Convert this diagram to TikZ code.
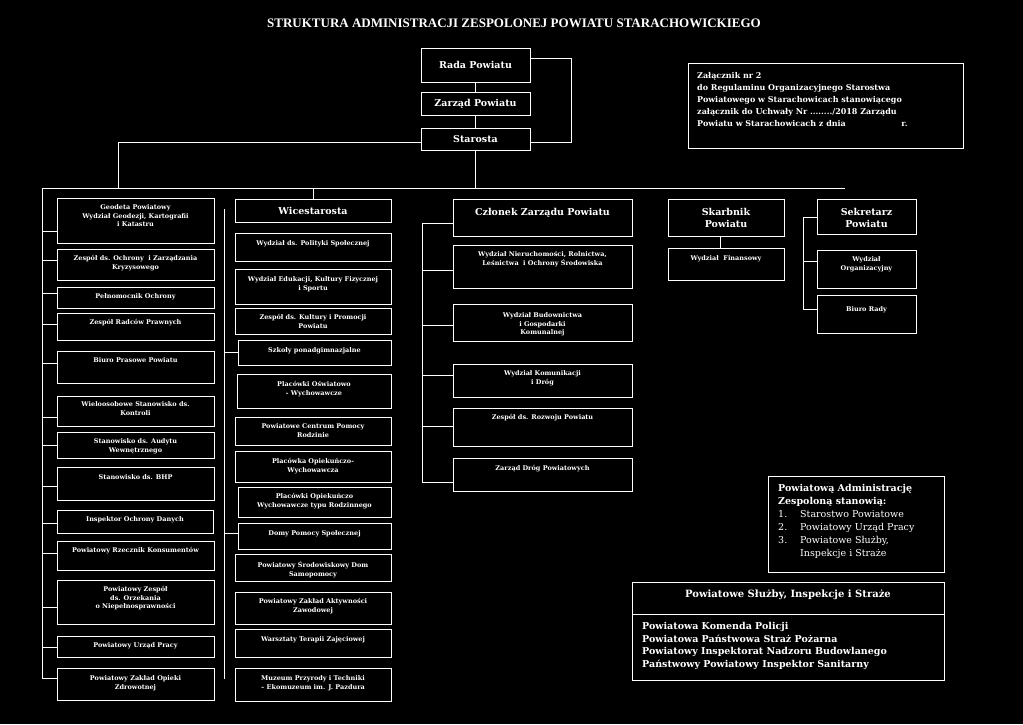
\documentclass[tikz,border=0pt]{standalone}
\usepackage{fontspec}
\setmainfont{DejaVu Serif}
\newfontfamily\ttlfont{Liberation Serif}
\usetikzlibrary{calc}
\newcommand\tl[1]{\begin{tabular}[t]{@{}c@{}}#1\end{tabular}}
\tikzset{
  box/.style={draw=white, line width=1pt, inner sep=0pt, outer sep=0pt},
  ln/.style={draw=white, line width=0.9pt},
  sm/.style={text=white, inner sep=0pt, font=\fontsize{6.5}{8.5}\selectfont\bfseries},
  bg/.style={text=white, inner sep=0pt, font=\fontsize{9.5}{12}\selectfont\bfseries},
}
\newcommand\bx[7]{%
  \node[box, anchor=north west, minimum width={(#4-#2)*1pt}, minimum height={(#5-#3)*1pt}] (#1) at (#2,#3) {};
  \node[sm, anchor=base] (#1t) at ({(#2+#4)/2},{#6+2.5}) {\tl{#7}};}
\newcommand\bxb[7]{%
  \node[box, anchor=north west, minimum width={(#4-#2)*1pt}, minimum height={(#5-#3)*1pt}] (#1) at (#2,#3) {};
  \node[bg, anchor=base] (#1t) at ({(#2+#4)/2},{#6+3.5}) {\tl{#7}};}
\begin{document}
\begin{tikzpicture}[x=1pt,y=-1pt]
\fill[black] (0,0) rectangle (1023,724);
\useasboundingbox (0,0) rectangle (1023,724);
% title
\node[text=white, inner sep=0pt, anchor=base, font=\ttlfont\fontsize{13}{15}\selectfont\bfseries] (title) at (514,27) {STRUKTURA ADMINISTRACJI ZESPOLONEJ POWIATU STARACHOWICKIEGO};
% top
\bxb{rada}{421}{48}{530}{82}{65}{Rada Powiatu}
\bxb{zarz}{421}{92}{530}{115}{103}{Zarząd Powiatu}
\bxb{star}{421}{128}{530}{150}{139}{Starosta}
% zalacznik
\node[box, anchor=north west, minimum width=275pt, minimum height=85pt] (zal) at (688,63) {};
\node[text=white, inner sep=0pt, anchor=base west, font=\fontsize{8}{12}\selectfont\bfseries] (zalt) at (697,78) {\begin{tabular}[t]{@{}l@{}}Załącznik nr 2\\do Regulaminu Organizacyjnego Starostwa\\Powiatowego w Starachowicach stanowiącego\\załącznik do Uchwały Nr ......../2018 Zarządu\\Powiatu w Starachowicach z dnia \hspace{50pt} r.\end{tabular}};
% left column
\bx{geo}{57}{198}{214}{243}{207}{Geodeta Powiatowy\\Wydział Geodezji, Kartografii\\i Katastru}
\bx{ochr}{57}{249}{214}{280}{258}{Zespół ds. Ochrony\ \ i Zarządzania\\Kryzysowego}
\bx{peln}{57}{287}{214}{308}{296}{Pełnomocnik Ochrony}
\bx{radc}{57}{313}{214}{340}{322}{Zespół Radców Prawnych}
\bx{pras}{57}{351}{214}{383}{360}{Biuro Prasowe Powiatu}
\bx{wiel}{57}{396}{214}{426}{404}{Wieloosobowe Stanowisko ds.\\Kontroli}
\bx{audyt}{57}{432}{214}{458}{441}{Stanowisko ds. Audytu\\Wewnętrznego}
\bx{bhp}{57}{467}{214}{500}{477}{Stanowisko ds. BHP}
\bx{iod}{57}{510}{213}{533}{519}{Inspektor Ochrony Danych}
\bx{rzecz}{57}{541}{214}{570}{550}{Powiatowy Rzecznik Konsumentów}
\bx{orz}{57}{580}{214}{624}{589}{Powiatowy Zespół\\ds. Orzekania\\o Niepełnosprawności}
\bx{pup}{57}{636}{214}{657}{645}{Powiatowy Urząd Pracy}
\bx{zoz}{57}{668}{214}{700}{678}{Powiatowy Zakład Opieki\\Zdrowotnej}
% middle column
\bxb{wice}{235}{199}{391}{222}{211}{Wicestarosta}
\bx{pol}{235}{233}{391}{261}{243}{Wydział ds. Polityki Społecznej}
\bx{edu}{235}{269}{391}{304}{279}{Wydział Edukacji, Kultury Fizycznej\\i Sportu}
\bx{kult}{235}{308}{391}{334}{317}{Zespół ds. Kultury i Promocji\\Powiatu}
\bx{szk}{238}{340}{391}{365}{350}{Szkoły ponadgimnazjalne}
\bx{osw}{237}{374}{391}{408}{384}{Placówki Oświatowo\\- Wychowawcze}
\bx{pcpr}{235}{417}{391}{445}{426}{Powiatowe Centrum Pomocy\\Rodzinie}
\bx{opw}{235}{451}{391}{482}{461}{Placówka Opiekuńczo-\\Wychowawcza}
\bx{opr}{238}{487}{391}{517}{496}{Placówki Opiekuńczo\\Wychowawcze typu Rodzinnego}
\bx{dps}{238}{523}{391}{549}{533}{Domy Pomocy Społecznej}
\bx{sds}{235}{554}{391}{581}{565}{Powiatowy Środowiskowy Dom\\Samopomocy}
\bx{zaz}{235}{592}{391}{624}{601}{Powiatowy Zakład Aktywności\\Zawodowej}
\bx{wtz}{235}{629}{391}{657}{639}{Warsztaty Terapii Zajęciowej}
\bx{muz}{235}{668}{391}{701}{678}{Muzeum Przyrody i Techniki\\– Ekomuzeum im. J. Pazdura}
% right column
\bxb{czl}{453}{199}{632}{236}{212}{Członek Zarządu Powiatu}
\bx{nier}{453}{245}{632}{288}{254}{Wydział Nieruchomości, Rolnictwa,\\Leśnictwa\ \ i Ochrony Środowiska}
\bx{bud}{453}{304}{632}{341}{315}{Wydział Budownictwa\\i Gospodarki\\Komunalnej}
\bx{kom}{453}{364}{632}{397}{373}{Wydział Komunikacji\\i Dróg}
\bx{rozw}{453}{408}{632}{446}{417}{Zespół ds. Rozwoju Powiatu}
\bx{zdp}{453}{458}{632}{491}{468}{Zarząd Dróg Powiatowych}
\bxb{skarb}{668}{199}{784}{236}{212}{Skarbnik\\Powiatu}
\bx{fin}{668}{248}{784}{280}{258}{Wydział\ \ Finansowy}
\bxb{sekr}{817}{199}{916}{234}{212}{Sekretarz\\Powiatu}
\bx{org}{817}{250}{916}{288}{259}{Wydział\\Organizacyjny}
\bx{rady}{817}{295}{916}{333}{309}{Biuro Rady}
% admin box
\node[box, anchor=north west, minimum width=176pt, minimum height=96pt] (adm) at (768,476) {};
\node[text=white, inner sep=0pt, anchor=base west, font=\fontsize{9.5}{13}\selectfont] (admt) at (778,491.5) {\begin{tabular}[t]{@{}l@{}}\textbf{Powiatową Administrację}\\\textbf{Zespoloną stanowią:}\\\makebox[22pt][l]{1.}Starostwo Powiatowe\\\makebox[22pt][l]{2.}Powiatowy Urząd Pracy\\\makebox[22pt][l]{3.}Powiatowe Służby,\\\makebox[22pt][l]{}Inspekcje i Straże\end{tabular}};
% sluzby box
\node[box, anchor=north west, minimum width=312pt, minimum height=98pt] (sluz) at (632,582) {};
\coordinate (dv) at (632,614);
\draw[ln] (dv) -- (dv -| sluz.east);
\node[text=white, inner sep=0pt, anchor=base, font=\fontsize{10}{12}\selectfont\bfseries] (sluzt) at (788,597.5) {Powiatowe Służby, Inspekcje i Straże};
\node[text=white, inner sep=0pt, anchor=base west, font=\fontsize{9.5}{12.7}\selectfont\bfseries] (sluzl) at (642,629.5) {\begin{tabular}[t]{@{}l@{}}Powiatowa Komenda Policji\\Powiatowa Państwowa Straż Pożarna\\Powiatowy Inspektorat Nadzoru Budowlanego\\Państwowy Powiatowy Inspektor Sanitarny\end{tabular}};
% connectors top
\draw[ln] (rada) -- (zarz);
\draw[ln] (zarz) -- (star);
\coordinate (hL) at (42,188);
\coordinate (hR) at (845,188);
\draw[ln] (hL) -- (hR);
\draw[ln] (star.south) -- (star.south |- hL);
\coordinate (br1) at (571,58);
\coordinate (br2) at (571,142);
\draw[ln] (br1 -| rada.east) -- (br1) -- (br2) -- (br2 -| star.east);
\coordinate (sl) at (118,142);
\draw[ln] (sl -| star.west) -- (sl) -- (sl |- hL);
\draw[ln] (wice.north |- hL) -- (wice.north);
% left spine
\coordinate (lsb) at (42,678);
\draw[ln] (hL) -- (lsb);
\foreach \n/\y in {geo/231,ochr/260,peln/293,radc/324,pras/363,wiel/417,audyt/445,bhp/486,iod/523,rzecz/553,orz/607,pup/647,zoz/678}{
  \coordinate (tmp) at (42,\y);
  \draw[ln] (tmp) -- (tmp -| \n.west);
}
% middle spine
\coordinate (ms1) at (224,209);
\coordinate (ms2) at (224,679);
\draw[ln] (ms1) -- (ms2);
\foreach \n/\y in {szk/352,dps/533}{
  \coordinate (tmp) at (224,\y);
  \draw[ln] (tmp) -- (tmp -| \n.west);
}
% right spine
\coordinate (rs1) at (422,223);
\coordinate (rs2) at (422,482);
\draw[ln] (rs1) -- (rs2);
\foreach \n/\y in {czl/223,nier/270,bud/325,kom/375,rozw/426,zdp/482}{
  \coordinate (tmp) at (422,\y);
  \draw[ln] (tmp) -- (tmp -| \n.west);
}
% skarbnik
\coordinate (sk) at (720,240);
\draw[ln] (sk |- skarb.south) -- (sk |- fin.north);
% sekretarz spine
\coordinate (ss1) at (803,217);
\coordinate (ss2) at (803,309);
\draw[ln] (ss1) -- (ss2);
\foreach \n/\y in {sekr/217,org/261,rady/309}{
  \coordinate (tmp) at (803,\y);
  \draw[ln] (tmp) -- (tmp -| \n.west);
}
\end{tikzpicture}
\end{document}
